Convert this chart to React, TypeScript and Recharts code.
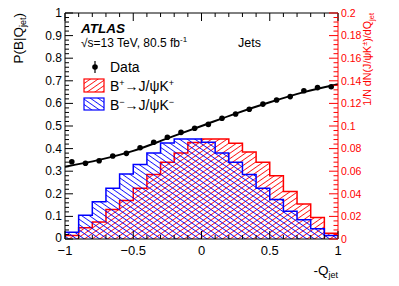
import { ComposedChart, Area, Line, Scatter, XAxis, YAxis, ReferenceLine } from 'recharts'

const FONT = '"Liberation Sans", Arial, Helvetica, sans-serif'
const W = 399
const H = 286
const M = { top: 13, right: 20, bottom: 22, left: 25 }
const X_AXIS_H = 25
const PLOT_H = H - M.top - M.bottom - X_AXIS_H

const binEdges = [-1, -0.9, -0.8, -0.7, -0.6, -0.5, -0.4, -0.3, -0.2, -0.1, 0, 0.1, 0.2, 0.3, 0.4, 0.5, 0.6, 0.7, 0.8, 0.9, 1]
const binCenters = [-0.95, -0.85, -0.75, -0.65, -0.55, -0.45, -0.35, -0.25, -0.15, -0.05, 0.05, 0.15, 0.25, 0.35, 0.45, 0.55, 0.65, 0.75, 0.85, 0.95]

// 1/N dN/dQ per bin, right axis
const bPlus = [0.003, 0.010, 0.015, 0.026, 0.034, 0.045, 0.057, 0.068, 0.076, 0.0855, 0.0885, 0.0885, 0.0847, 0.077, 0.068, 0.056, 0.042, 0.031, 0.019, 0.005]
const bMinus = [0.006, 0.021, 0.033, 0.045, 0.0575, 0.066, 0.076, 0.085, 0.0885, 0.0885, 0.0856, 0.076, 0.068, 0.057, 0.045, 0.035, 0.0245, 0.017, 0.009, 0.003]

// P(B|Q) data points, left axis
const dataP = [0.342, 0.335, 0.346, 0.367, 0.379, 0.404, 0.428, 0.450, 0.472, 0.490, 0.507, 0.534, 0.553, 0.574, 0.597, 0.615, 0.630, 0.656, 0.670, 0.674]

// fitted curve read at a few points
const fitX = [-1, -0.75, -0.5, -0.25, 0, 0.25, 0.5, 0.75, 1]
const fitP = [0.32, 0.35, 0.39, 0.445, 0.5, 0.555, 0.605, 0.65, 0.685]

const leftLabels = ['0', '0.1', '0.2', '0.3', '0.4', '0.5', '0.6', '0.7', '0.8', '0.9', '1']
const rightLabels = ['0', '0.02', '0.04', '0.06', '0.08', '0.1', '0.12', '0.14', '0.16', '0.18', '0.2']
const xLabels = ['\u22121', '\u22120.5', '0', '0.5', '1']

const leftTicks = Array.from({ length: 51 }, (_, i) => i / 50)
const rightTicks = Array.from({ length: 51 }, (_, i) => (i * 0.2) / 50)
const xTicks = Array.from({ length: 21 }, (_, i) => -1 + i / 10)

const histRows = (vals: number[]) => binEdges.map((x, i) => ({ x, v: vals[Math.min(i, vals.length - 1)] }))
const plusRows = histRows(bPlus)
const minusRows = histRows(bMinus)
const pointRows = binCenters.map((x, i) => ({ x, p: dataP[i] }))
const fitRows = fitX.map((x, i) => ({ x, p: fitP[i] }))

const RED = '#ff0000'
const BLUE = '#0000ff'

function Hatch({ id, color, angle }: { id: string; color: string; angle: number }) {
  return (
    <pattern id={id} width="4.4" height="4.4" patternUnits="userSpaceOnUse" patternTransform={`rotate(${angle})`}>
      <line x1="0" y1="2.2" x2="4.4" y2="2.2" stroke={color} strokeWidth="0.8" />
    </pattern>
  )
}

function LeftTick({ x, y, index }: any) {
  const major = index % 5 === 0
  return (
    <g>
      <line x1={x} y1={y} x2={x + (major ? 8 : 4)} y2={y} stroke="#000" />
      {major && (
        <text x={x - 3} y={index === 0 ? y - 1 : y} dy="0.34em" textAnchor="end" fontSize={12} fontFamily={FONT} fill="#000">
          {leftLabels[index / 5]}
        </text>
      )}
    </g>
  )
}

function RightTick({ x, y, index }: any) {
  const major = index % 5 === 0
  return (
    <g>
      <line x1={x} y1={y} x2={x - (major ? 9 : 4.5)} y2={y} stroke={RED} />
      {major && (
        <text x={x + 3} y={y} dy="0.36em" textAnchor="start" fontSize={10.5} fontFamily={FONT} fill={RED}>
          {rightLabels[index / 5]}
        </text>
      )}
    </g>
  )
}

function BottomTick({ x, y, index }: any) {
  const major = index % 5 === 0
  const len = major ? 8 : 4
  const top = y - PLOT_H
  return (
    <g>
      <line x1={x} y1={y} x2={x} y2={y - len} stroke="#000" />
      <line x1={x} y1={top} x2={x} y2={top + len} stroke="#000" />
      {major && (
        <text x={x} y={y + 16} textAnchor="middle" fontSize={13} fontFamily={FONT} fill="#000">
          {xLabels[index / 5]}
        </text>
      )}
    </g>
  )
}

function Overlay() {
  return (
    <svg width={W} height={H} style={{ position: 'absolute', left: 0, top: 0, pointerEvents: 'none' }} fontFamily={FONT}>
      <defs>
        <Hatch id="lgRed" color={RED} angle={-35} />
        <Hatch id="lgBlue" color={BLUE} angle={35} />
      </defs>
      <text x={81} y={33} fontSize={13.5} fontWeight="bold" fontStyle="italic">ATLAS</text>
      <text x={81} y={47} fontSize={12}>
        {'\u221As=13 TeV, 80.5 fb'}
        <tspan dy={-5} fontSize={8}>-1</tspan>
      </text>
      <text x={238} y={47} fontSize={12.5}>Jets</text>

      <line x1={95} y1={61} x2={95} y2={73} stroke="#000" strokeWidth={1.2} />
      <circle cx={95} cy={67} r={2.8} fill="#000" />
      <text x={110} y={72} fontSize={14}>Data</text>

      <rect x={84} y={79} width={20} height={13} fill="url(#lgRed)" stroke={RED} strokeWidth={1.2} />
      <text x={110} y={91} fontSize={14}>
        B<tspan dy={-5} fontSize={9}>+</tspan>
        <tspan dy={5}>{'\u2192J/\u03C8K'}</tspan>
        <tspan dy={-5} fontSize={9}>+</tspan>
      </text>
      <rect x={84} y={98} width={20} height={12} fill="url(#lgBlue)" stroke={BLUE} strokeWidth={1.2} />
      <text x={110} y={110} fontSize={14}>
        B<tspan dy={-5} fontSize={9}>{'\u2212'}</tspan>
        <tspan dy={5}>{'\u2192J/\u03C8K'}</tspan>
        <tspan dy={-5} fontSize={9}>{'\u2212'}</tspan>
      </text>

      <text transform="translate(23,13) rotate(-90)" textAnchor="end" fontSize={13.5}>
        P(B|Q<tspan dy={3} fontSize={9}>jet</tspan>
        <tspan dy={-3}>)</tspan>
      </text>
      <text transform="translate(371,13) rotate(-90)" textAnchor="end" fontSize={10.7} fill={RED}>
        {'1/N dN(J/\u03C8K'}
        <tspan dy={-4} fontSize={7.5}>{'\u00B1'}</tspan>
        <tspan dy={4}>)/dQ</tspan>
        <tspan dy={2.5} fontSize={7.5}>jet</tspan>
      </text>
      <text x={338} y={275} textAnchor="end" fontSize={13.5}>
        -Q<tspan dy={3} fontSize={9}>jet</tspan>
      </text>
    </svg>
  )
}

export default function App() {
  return (
    <div style={{ position: 'relative', width: W, height: H, background: '#fff', fontFamily: FONT }}>
      <style>{'body{margin:0}'}</style>
      <ComposedChart width={W} height={H} margin={M}>
        <defs>
          <Hatch id="hRed" color={RED} angle={-35} />
          <Hatch id="hBlue" color={BLUE} angle={35} />
        </defs>
        <XAxis
          dataKey="x"
          type="number"
          domain={[-1, 1]}
          ticks={xTicks}
          interval={0}
          height={X_AXIS_H}
          tickSize={0}
          tickMargin={0}
          tickLine={false}
          axisLine={{ stroke: '#000' }}
          tick={(p: any) => <BottomTick {...p} />}
        />
        <YAxis
          yAxisId="p"
          type="number"
          domain={[0, 1]}
          ticks={leftTicks}
          interval={0}
          width={40}
          tickSize={0}
          tickMargin={0}
          tickLine={false}
          axisLine={{ stroke: '#000' }}
          tick={(p: any) => <LeftTick {...p} />}
        />
        <YAxis
          yAxisId="h"
          orientation="right"
          type="number"
          domain={[0, 0.2]}
          ticks={rightTicks}
          interval={0}
          width={41}
          tickSize={0}
          tickMargin={0}
          tickLine={false}
          axisLine={{ stroke: RED }}
          tick={(p: any) => <RightTick {...p} />}
        />
        <ReferenceLine yAxisId="p" y={1} stroke="#000" />
        <Area
          yAxisId="h"
          data={plusRows}
          dataKey="v"
          type="stepAfter"
          fill="url(#hRed)"
          fillOpacity={1}
          stroke={RED}
          strokeWidth={1.5}
          dot={false}
          activeDot={false}
          isAnimationActive={false}
        />
        <Area
          yAxisId="h"
          data={minusRows}
          dataKey="v"
          type="stepAfter"
          fill="url(#hBlue)"
          fillOpacity={1}
          stroke={BLUE}
          strokeWidth={1.5}
          dot={false}
          activeDot={false}
          isAnimationActive={false}
        />
        <Line
          yAxisId="p"
          data={fitRows}
          dataKey="p"
          type="monotone"
          stroke="#000"
          strokeWidth={2}
          dot={false}
          activeDot={false}
          isAnimationActive={false}
        />
        <Scatter
          yAxisId="p"
          data={pointRows}
          dataKey="p"
          fill="#000"
          isAnimationActive={false}
          shape={(s: any) => <circle cx={s.cx} cy={s.cy} r={2.8} fill="#000" />}
        />
      </ComposedChart>
      <Overlay />
    </div>
  )
}
